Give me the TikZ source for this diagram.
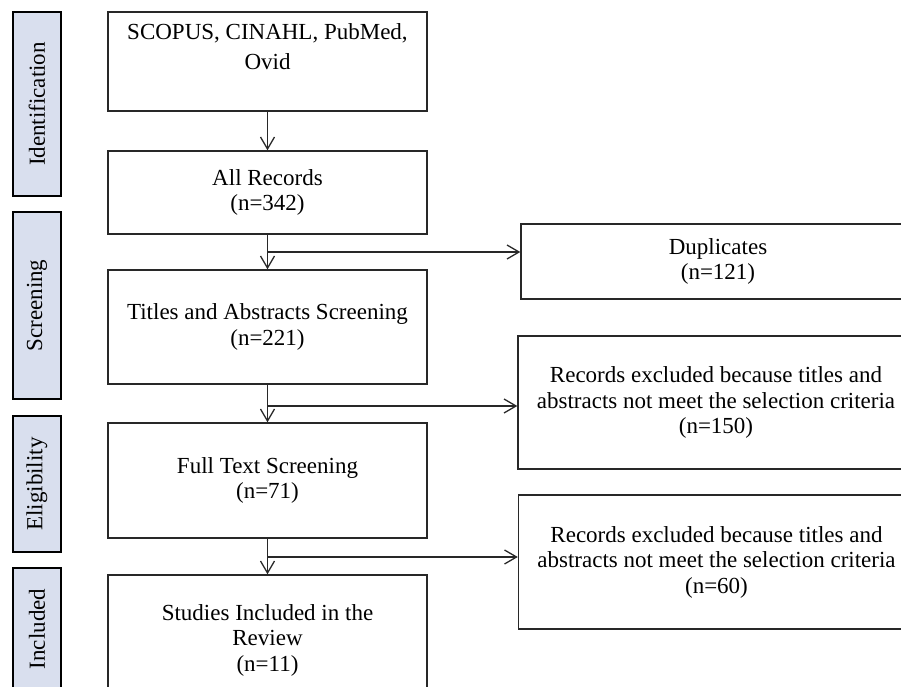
\documentclass[tikz,border=0pt]{standalone}
\usepackage{fontspec}
\setmainfont{Liberation Serif}
\usetikzlibrary{arrows.meta}
\definecolor{stagefill}{RGB}{217,223,238}
\definecolor{boxline}{RGB}{40,40,40}
\tikzset{
  box/.style={draw=boxline, line width=1.4pt, align=center, inner sep=0pt, font=\fontsize{23pt}{25.5pt}\selectfont},
  kmain/.style={box, minimum width=319pt},
  kside/.style={box, minimum width=396pt},
  kstage/.style={box, draw=black, line width=2pt, fill=stagefill, rotate=90, minimum height=48pt},
  flow/.style={-{Straight Barb[length=12pt, width=14pt]}, line width=1.3pt, draw=boxline},
}

\begin{document}
\begin{tikzpicture}[x=1pt, y=-1pt]
    \path[use as bounding box, clip] (0,0) rectangle (901,687);
    % stages
    \node[kstage, minimum width=184pt] (ident) at (37,104) {Identification};
    \node[kstage, minimum width=187pt] (screen) at (37,305.5) {Screening};
    \node[kstage, minimum width=136pt] (elig) at (37,484) {Eligibility};
    \node[kstage, minimum width=122pt] (incl) at (37,629) {Included};
    % main column
    \node[kmain, minimum height=99pt] (sources) at (267.5,61.5) {SCOPUS, CINAHL, PubMed,\\[4.5pt] Ovid\\[4.5pt] \mbox{}};
    \node[kmain, minimum height=83pt] (allrec) at (267.5,192.5) {All Records\\ (n=342)};
    \node[kmain, minimum height=114pt] (titles) at (267.5,327) {Titles and Abstracts Screening\\ (n=221)};
    \node[kmain, minimum height=115pt] (fulltext) at (267.5,480.5) {Full Text Screening\\ (n=71)};
    \node[kmain, minimum height=130pt] (studies) at (267.5,640) {Studies Included in the\\ Review\\ (n=11)};
    % side column
    \node[kside, minimum width=394pt, minimum height=75pt] (dups) at (718,261.5) {Duplicates\\ (n=121)};
    \node[kside, minimum height=133pt] (exclabs) at (716,402.5) {Records excluded because titles and\\ abstracts not meet the selection criteria\\ (n=150)};
    \node[kside, minimum height=134pt] (exclfull) at (716.5,562) {Records excluded because titles and\\ abstracts not meet the selection criteria\\ (n=60)};
    % branch points
    \coordinate (b1) at (267.5,252);
    \coordinate (b2) at (267.5,406);
    \coordinate (b3) at (267.5,557);
    \draw[flow] (sources) -- (allrec);
    \draw[flow] (allrec) -- (titles);
    \draw[flow] (titles) -- (fulltext);
    \draw[flow] (fulltext) -- (studies);
    \draw[flow] (b1) -- (b1 -| dups.west);
    \draw[flow] (b2) -- (b2 -| exclabs.west);
    \draw[flow] (b3) -- (b3 -| exclfull.west);
  \end{tikzpicture}
\end{document}
